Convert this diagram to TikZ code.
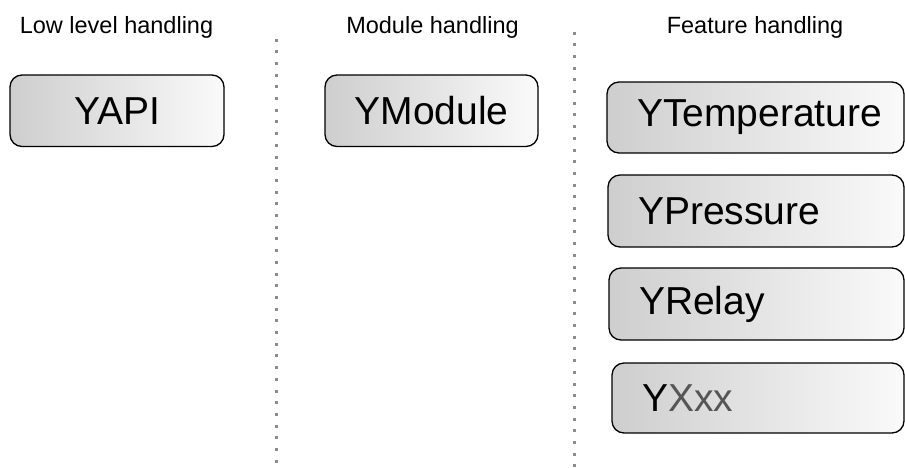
\documentclass[tikz,border=0pt]{standalone}
\usepackage{fontspec}
\setmainfont{Liberation Sans}
\definecolor{boxleft}{RGB}{206,206,206}
\definecolor{boxright}{RGB}{250,250,250}
\definecolor{dotgray}{RGB}{140,140,140}
\definecolor{xxgray}{RGB}{85,85,85}
\begin{document}
\begin{tikzpicture}[x=1pt,y=-1pt,
  header/.style={anchor=base, font=\fontsize{23.5}{28}\selectfont, inner sep=0pt},
  classbox/.style={draw=black, line width=1.3pt, rounded corners=12pt,
    left color=boxleft, right color=boxright,
    font=\fontsize{39}{44}\selectfont, inner sep=0pt},
  centerbox/.style={classbox, align=center},
  featbox/.style={classbox, inner xsep=30pt, align=left},
  separator/.style={dotgray, line width=3pt, line cap=butt, dash pattern=on 3pt off 8.7pt}
]
\useasboundingbox (0,0) rectangle (905,467);

\node[header] (h1) at (116.5,33) {Low level handling};
\node[header] (h2) at (432.5,33) {Module handling};
\node[header] (h3) at (755,33) {Feature handling};

\coordinate (s1top) at (276.5,38.5);
\coordinate (s1bot) at (276.5,470);
\coordinate (s2top) at (574,31.5);
\coordinate (s2bot) at (574,470);
\draw[separator] (s1top) -- (s1bot);
\draw[separator] (s2top) -- (s2bot);

\node[centerbox, minimum width=214pt, minimum height=71.5pt] (yapi) at (117,110.75) {YAPI};
\node[centerbox, minimum width=213pt, minimum height=71.5pt] (ymodule) at (431.5,110.75) {YModule};

\node[featbox, text width=237pt, minimum height=71pt] (ytemp) at (755.5,117.5) {YTemperature};
\node[featbox, text width=236pt, minimum height=72pt] (ypress) at (756,211) {YPressure};
\node[featbox, text width=235pt, minimum height=72pt] (yrelay) at (756.5,304) {YRelay};
\node[featbox, text width=232pt, minimum height=70pt] (yxxx) at (758,398) {Y\textcolor{xxgray}{Xxx}};
\end{tikzpicture}
\end{document}
